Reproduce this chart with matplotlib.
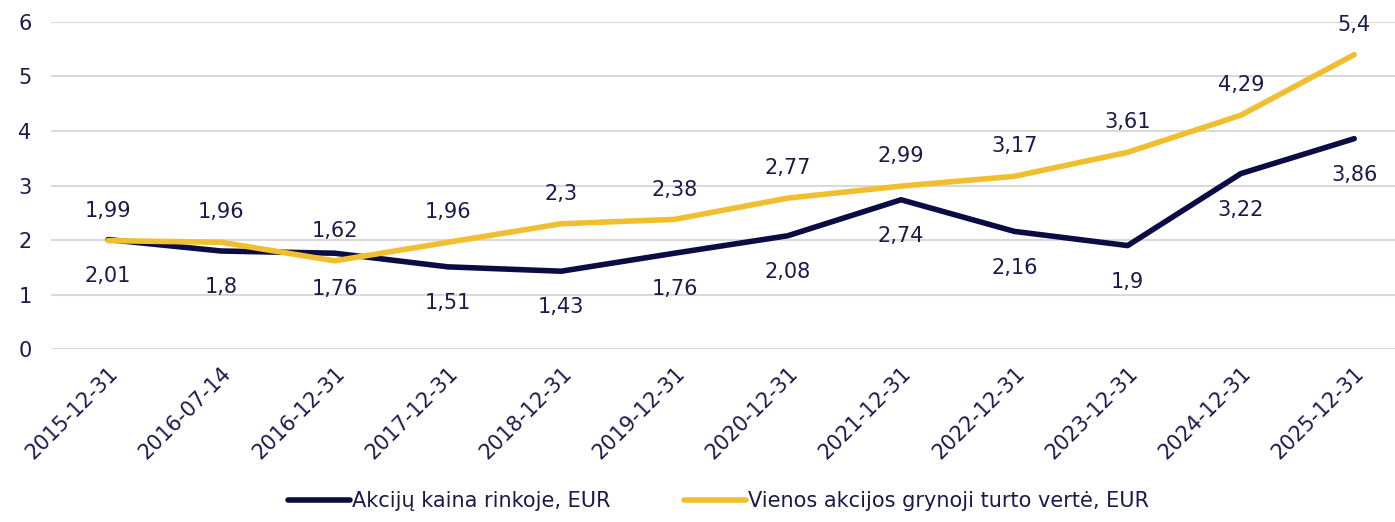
import matplotlib.pyplot as plt

dates = ["2015-12-31", "2016-07-14", "2016-12-31", "2017-12-31", "2018-12-31",
         "2019-12-31", "2020-12-31", "2021-12-31", "2022-12-31", "2023-12-31",
         "2024-12-31", "2025-12-31"]
kaina = [2.01, 1.8, 1.76, 1.51, 1.43, 1.76, 2.08, 2.74, 2.16, 1.9, 3.22, 3.86]
nav = [1.99, 1.96, 1.62, 1.96, 2.3, 2.38, 2.77, 2.99, 3.17, 3.61, 4.29, 5.4]

navy = "#0c0c45"
yellow = "#f0bf30"
txt = "#1b1b4b"

plt.rcParams['font.family'] = ['DejaVu Sans']

fig = plt.figure(figsize=(13.95, 5.22), dpi=100)
ax = fig.add_axes([0.0366, 0.331, 0.9634, 0.627])

x = list(range(len(dates)))
ax.plot(x, kaina, color=navy, lw=4, solid_capstyle='round', label="Akcijų kaina rinkoje, EUR", zorder=3)
ax.plot(x, nav, color=yellow, lw=4, solid_capstyle='round', label="Vienos akcijos grynoji turto vertė, EUR", zorder=4)

def fmt(v):
    return ("%g" % v).replace(".", ",")

for i in x:
    ax.annotate(fmt(nav[i]), (i, nav[i]), xytext=(0, 21.5), textcoords='offset points',
                ha='center', va='center', fontsize=15, color=txt)
    ax.annotate(fmt(kaina[i]), (i, kaina[i]), xytext=(0, -26), textcoords='offset points',
                ha='center', va='center', fontsize=15, color=txt)

ax.set_xlim(-0.503, 11.36)
ax.set_ylim(0, 6)
ax.set_yticks(range(0, 7))
ax.set_xticks(x)
ax.set_xticklabels(dates, rotation=45, ha='right', rotation_mode='anchor')
ax.tick_params(axis='both', length=0, labelsize=15, labelcolor=txt)
ax.tick_params(axis='y', pad=14)
ax.tick_params(axis='x', pad=10)
ax.grid(axis='y', color='#d9d9d9', lw=1.5)
ax.set_axisbelow(True)
for s in ax.spines.values():
    s.set_visible(False)

fig.legend(loc='lower center', bbox_to_anchor=(0.515, -0.015), ncol=2, frameon=False,
           fontsize=15, handlelength=3, handletextpad=0.1, columnspacing=3.5,
           labelcolor=txt)

fig.savefig("out.png", dpi=100)
